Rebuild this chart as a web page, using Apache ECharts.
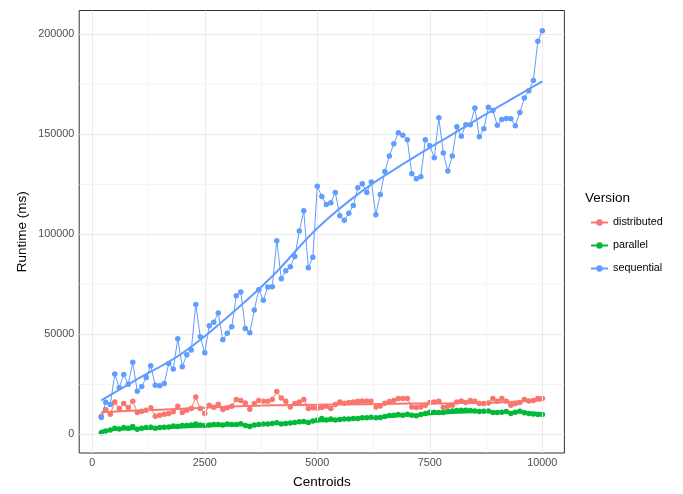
<!DOCTYPE html>
<html><head><meta charset="utf-8">
<script src="https://cdn.jsdelivr.net/npm/echarts@6/dist/echarts.min.js"></script>
<style>html,body{margin:0;padding:0;background:#fff}#c{width:683px;height:494px}</style>
</head><body><div id="c"></div>
<script>
const centroids = [200,300,400,500,600,700,800,900,1000,1100,1200,1300,1400,1500,1600,1700,1800,1900,2000,2100,2200,2300,2400,2500,2600,2700,2800,2900,3000,3100,3200,3300,3400,3500,3600,3700,3800,3900,4000,4100,4200,4300,4400,4500,4600,4700,4800,4900,5000,5100,5200,5300,5400,5500,5600,5700,5800,5900,6000,6100,6200,6300,6400,6500,6600,6700,6800,6900,7000,7100,7200,7300,7400,7500,7600,7700,7800,7900,8000,8100,8200,8300,8400,8500,8600,8700,8800,8900,9000,9100,9200,9300,9400,9500,9600,9700,9800,9900,10000];
const distributed = [9000,12300,10000,16100,12800,15300,13300,16500,10900,11500,12000,13200,9000,9500,10000,10400,11200,14000,10900,12000,12800,18600,12800,10400,14500,13500,15000,12300,13200,14000,17400,16900,15600,12500,15300,16900,16500,16500,17300,21400,18100,16500,13600,15300,16100,17400,12800,13200,13000,13300,14000,12800,14800,16100,15500,15800,16100,16500,16600,16600,16500,13600,14100,15500,16300,16900,17800,17800,17800,13600,13300,13600,14500,15800,16100,16500,13300,14000,14500,16100,16600,15800,16900,16500,15300,15300,15600,17800,16500,17800,16500,14500,15300,15800,17400,16600,16900,17800,17800];
const parallel = [700,1600,2100,3000,2600,3300,3000,3800,2500,3000,3300,3500,3000,3300,3500,3600,4100,3900,4300,4400,4600,5100,4600,4300,4600,4900,4900,4600,5100,4900,4900,5200,4300,3800,4600,4900,5100,5100,5400,5700,5100,5400,5600,5900,6200,6400,5900,6600,7100,7900,7100,7600,7100,7400,7600,7600,7900,7900,8200,8200,8500,8200,8400,8900,9300,9500,9900,9500,10000,9500,9200,9900,10400,11000,11000,10800,10800,11300,11600,11800,12000,12000,11800,11600,11300,11500,11600,10800,10800,11000,11300,10400,11000,11500,10700,10300,10100,9900,9900];
const sequential = [8400,16000,14800,30100,23200,29900,25000,36000,21500,23900,28300,34200,24500,24200,25300,35400,32600,47700,33700,39700,42100,64900,48700,40700,54300,56000,60600,47200,50500,53700,69300,71100,52900,50700,62100,72300,67000,73600,73800,96800,77700,81800,83800,88900,101600,111700,83300,88500,124000,118900,114900,115800,120900,109300,107000,110500,114400,123200,125200,120900,126100,109800,119900,131400,139100,145300,150700,149500,147200,130200,127800,128800,147300,144300,138300,158300,140600,131600,139100,153800,149000,154800,154800,163200,148700,152700,163500,161900,154500,157400,157900,157800,154300,160900,168100,171800,176900,196500,201800];

const smoothX = [200,1000,2000,3000,4000,5000,6000,7000,8000,9000,10000];
const distributedSmooth = [11000,11800,12700,13700,14500,14700,15000,15300,15500,15900,16800];
const parallelSmooth = [1800,2600,3400,4300,5100,6300,7700,9200,10600,11200,10600];
const sequentialSmooth = [16900,27500,40500,58500,79000,103000,121700,136400,150000,163400,176400];

const xTicks = [0,2500,5000,7500,10000];
const xMinor = [1250,3750,6250,8750];
const yTicks = [0,50000,100000,150000,200000];
const yMinor = [25000,75000,125000,175000];

const names = ['distributed','parallel','sequential'];
const colors = ['#F8766D','#00BA38','#619CFF'];
const pts = [distributed, parallel, sequential];
const sm = [distributedSmooth, parallelSmooth, sequentialSmooth];
const FONT = 'Liberation Sans, Arial, sans-serif';

const pair = (xs, ys) => xs.map((x, i) => [x, ys[i]]);

const gridLines = [];
xMinor.forEach(v => gridLines.push({xAxis: v, lineStyle: {width: 0.5}}));
yMinor.forEach(v => gridLines.push({yAxis: v, lineStyle: {width: 0.5}}));
xTicks.forEach(v => gridLines.push({xAxis: v, lineStyle: {width: 1}}));
yTicks.forEach(v => gridLines.push({yAxis: v, lineStyle: {width: 1}}));

const series = [{
  type: 'line', name: 'grid', data: [], silent: true, z: 0,
  markLine: {
    silent: true, symbol: ['none','none'], label: {show: false}, animation: false,
    lineStyle: {color: '#EBEBEB', type: 'solid'},
    emphasis: {disabled: true},
    data: gridLines
  }
}];
names.forEach((n, k) => {
  series.push({
    type: 'line', name: n, data: pair(centroids, pts[k]),
    symbol: 'circle', symbolSize: 5.5, showSymbol: true,
    lineStyle: {color: colors[k], width: 1},
    itemStyle: {color: colors[k]},
    z: 2 + k * 2, animation: false
  });
});
names.forEach((n, k) => {
  series.push({
    type: 'line', name: n + '_smooth', data: pair(smoothX, sm[k]),
    smooth: 0.4, symbol: 'none', showSymbol: false,
    lineStyle: {color: colors[k], width: 2},
    z: 3 + k * 2, animation: false
  });
});

const chart = echarts.init(document.getElementById('c'), null, {renderer: 'canvas'});
chart.setOption({
  backgroundColor: '#ffffff',
  animation: false,
  grid: {left: 79.2, right: 118.6, top: 10.5, bottom: 35.7, show: true, borderColor: '#333333', borderWidth: 1, backgroundColor: 'transparent'},
  xAxis: {
    type: 'value', min: -290, max: 10490,
    name: 'Centroids', nameLocation: 'middle', nameGap: 22,
    nameTextStyle: {fontFamily: FONT, fontSize: 13.5, color: '#000'},
    axisLine: {show: false},
    splitLine: {show: false},
    axisTick: {show: true, length: 3, lineStyle: {color: '#333333'}, customValues: xTicks},
    axisLabel: {customValues: xTicks, fontFamily: FONT, fontSize: 10.8, color: '#4D4D4D', margin: 5, formatter: v => String(v)}
  },
  yAxis: {
    type: 'value', min: -9400, max: 211900,
    name: 'Runtime (ms)', nameLocation: 'middle', nameGap: 50, nameMoveOverlap: false,
    nameTextStyle: {fontFamily: FONT, fontSize: 13.5, color: '#000'},
    axisLine: {show: false},
    splitLine: {show: false},
    axisTick: {show: true, length: 3, lineStyle: {color: '#333333'}, customValues: yTicks},
    axisLabel: {customValues: yTicks, fontFamily: FONT, fontSize: 10.8, color: '#4D4D4D', margin: 5, formatter: v => String(v)}
  },
  legend: {
    data: names, orient: 'vertical', left: 585, top: 212,
    itemWidth: 17, itemHeight: 8, itemGap: 12,
    textStyle: {fontFamily: FONT, fontSize: 10.8, color: '#000'},
    selectedMode: false
  },
  graphic: [{type: 'text', left: 585, top: 191, style: {text: 'Version', font: '13.5px ' + FONT, fill: '#000'}}],
  series: series
});
</script></body></html>
